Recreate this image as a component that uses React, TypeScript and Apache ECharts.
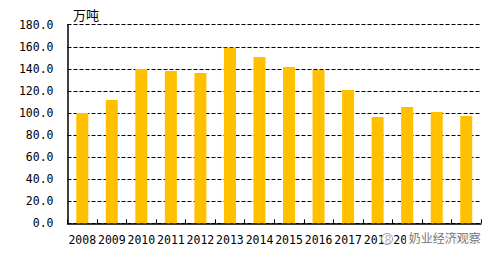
import React, { useEffect, useRef } from "react";
import * as echarts from "echarts";

const categories = ["2008", "2009", "2010", "2011", "2012", "2013", "2014", "2015", "2016", "2017", "2018", "2019", "2020", "2021"];
const values = [100.0, 111.8, 139.9, 138.0, 136.2, 159.0, 150.8, 141.7, 139.0, 120.8, 96.4, 105.4, 100.9, 97.3];
const unitLabel = "万吨";
const watermark = "奶业经济观察";

export default function App() {
  const ref = useRef<HTMLDivElement>(null);
  useEffect(() => {
    const chart = echarts.init(ref.current!, null, { renderer: "svg" });
    const font = "'DejaVu Sans Mono', monospace";
    chart.setOption({
      animation: false,
      backgroundColor: "#ffffff",
      grid: { left: 67.5, right: 14, top: 24.7, bottom: 38.7 },
      xAxis: {
        type: "category",
        data: categories,
        boundaryGap: true,
        axisLine: { lineStyle: { color: "#000", width: 1.5 } },
        axisTick: { show: true, inside: true, length: 4, lineStyle: { color: "#000" } },
        axisLabel: { color: "#000", fontFamily: font, fontSize: 11.5, margin: 11, interval: 0 },
      },
      yAxis: {
        type: "value",
        min: 0,
        max: 180,
        interval: 20,
        axisLine: { show: true, lineStyle: { color: "#000", width: 1.5 } },
        axisTick: { show: true, inside: true, length: 3, lineStyle: { color: "#000" } },
        axisLabel: { color: "#000", fontFamily: font, fontSize: 11.5, margin: 14, formatter: (v: number) => v.toFixed(1) },
        splitLine: { show: true, lineStyle: { color: "#000", type: [4, 2], width: 1 } },
      },
      series: [
        {
          type: "bar",
          data: values,
          barWidth: 12,
          itemStyle: { color: "#FFC000" },
        },
      ],
      graphic: [
        {
          type: "text",
          left: 73,
          top: 8,
          z: 100,
          style: { text: unitLabel, fill: "#000", font: "13px 'Noto Sans CJK SC'" },
        },
        {
          type: "rect",
          z: 100,
          shape: { x: 406, y: 230, width: 76, height: 18 },
          style: { fill: "rgba(255,255,255,0.85)" },
        },
        {
          type: "circle",
          z: 101,
          shape: { cx: 387, cy: 239, r: 5.5 },
          style: { fill: "rgba(255,255,255,0.7)", stroke: "#999", lineWidth: 1 },
        },
        {
          type: "text",
          z: 101,
          left: 408,
          top: 231,
          style: {
            text: watermark,
            fill: "#777",
            stroke: "#fff",
            lineWidth: 1.5,
            font: "12px 'Noto Sans CJK SC'",
          },
        },
      ],
    });
    return () => chart.dispose();
  }, []);
  return <div ref={ref} style={{ position: "fixed", left: 0, top: 0, width: 495, height: 262 }} />;
}
